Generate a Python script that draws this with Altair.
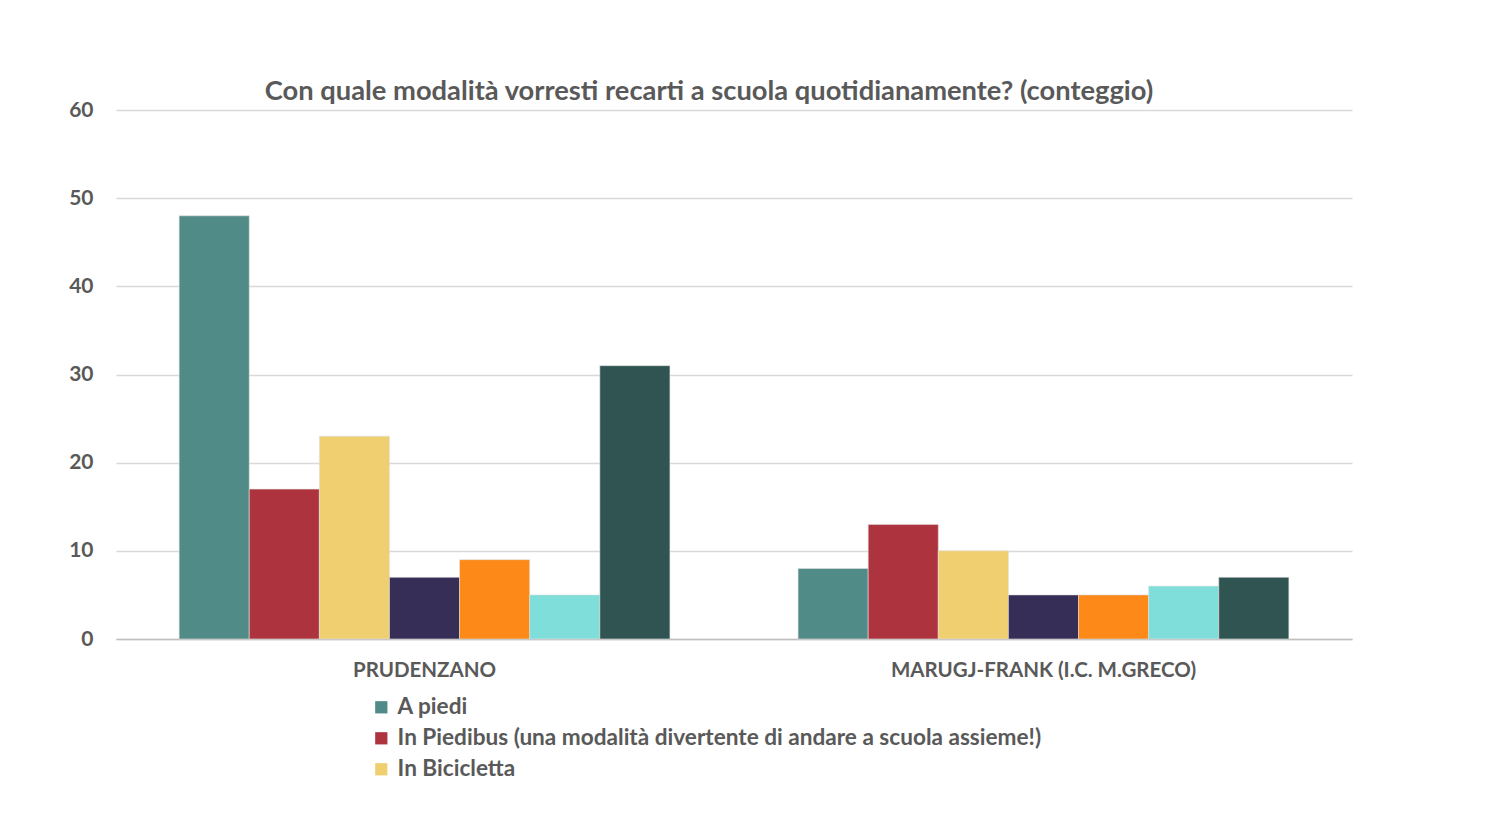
import altair as alt
import pandas as pd

categories = ["PRUDENZANO", "MARUGJ-FRANK (I.C. M.GRECO)"]
series = [
    "A piedi",
    "In Piedibus (una modalità divertente di andare a scuola assieme!)",
    "In Bicicletta",
    "In Monopattino",
    "In Scuolabus",
    "In Autobus",
    "In Auto",
]
values_prudenzano = [48, 17, 23, 7, 9, 5, 31]
values_marugj = [8, 13, 10, 5, 5, 6, 7]
colors = ["#508b87", "#ad343e", "#f0cf70", "#372e57", "#fd8918", "#7fdeda", "#2f5451"]
legend_shown = series[:3]

rows = []
for s, v in zip(series, values_prudenzano):
    rows.append({"Scuola": categories[0], "Modalità": s, "Conteggio": v})
for s, v in zip(series, values_marugj):
    rows.append({"Scuola": categories[1], "Modalità": s, "Conteggio": v})
df = pd.DataFrame(rows)

FONT = "Lato"
GRAY = "#595959"

chart = (
    alt.Chart(df)
    .mark_bar(stroke="#e0e0e0", strokeWidth=0.6)
    .encode(
        x=alt.X(
            "Scuola:N",
            sort=categories,
            title=None,
            scale=alt.Scale(paddingInner=0.207, paddingOuter=0.102),
            axis=alt.Axis(
                labelAngle=0,
                labelFont=FONT,
                labelFontSize=20.5,
                labelFontWeight="bold",
                labelColor=GRAY,
                labelPadding=21,
                labelLimit=1000,
                ticks=False,
                domainColor="#bfbfbf",
                domainWidth=1.5,
            ),
        ),
        xOffset=alt.XOffset("Modalità:N", sort=series, scale=alt.Scale(paddingInner=0, paddingOuter=0)),
        y=alt.Y(
            "Conteggio:Q",
            title=None,
            scale=alt.Scale(domain=[0, 60]),
            axis=alt.Axis(
                values=[0, 10, 20, 30, 40, 50, 60],
                labelFont=FONT,
                labelFontSize=21,
                labelFontWeight="bold",
                labelColor=GRAY,
                labelPadding=23,
                ticks=False,
                domain=False,
                gridColor="#d9d9d9",
                gridWidth=1.3,
            ),
        ),
        color=alt.Color(
            "Modalità:N",
            sort=series,
            scale=alt.Scale(domain=series, range=colors),
            legend=alt.Legend(
                values=legend_shown,
                title=None,
                orient="none",
                legendX=254,
                legendY=586,
                symbolType="square",
                symbolSize=150,
                symbolStrokeWidth=0,
                labelFont=FONT,
                labelFontSize=22.6,
                labelFontWeight="bold",
                labelColor=GRAY,
                labelLimit=900,
                rowPadding=8,
                labelOffset=5,
            ),
        ),
    )
    .properties(
        width=1236,
        height=529,
        title=alt.Title(
            "Con quale modalità vorresti recarti a scuola quotidianamente? (conteggio)",
            font=FONT,
            fontSize=27.3,
            fontWeight="bold",
            color=GRAY,
            anchor="middle",
            dx=-25,
            dy=14,
            offset=8,
        ),
        autosize=alt.AutoSizeParams(type="none"),
        padding={"left": 108, "top": 102, "right": 150, "bottom": 190},
    )
    .configure_view(stroke=None)
)

chart.save("out.html", embed_options={"renderer": "svg", "actions": False})
